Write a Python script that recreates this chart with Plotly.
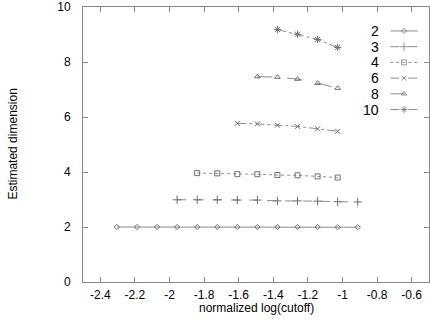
import plotly.graph_objects as go

# x positions (normalized log(cutoff))
x_all = [-2.304, -2.188, -2.072, -1.956, -1.840, -1.724, -1.608,
         -1.492, -1.376, -1.260, -1.144, -1.028, -0.912]

names = ["2", "3", "4", "6", "8", "10"]
x2 = x_all
y2 = [2.00, 2.00, 2.00, 2.00, 2.00, 2.00, 2.00, 2.00, 2.00, 2.00, 2.00, 1.99, 1.99]
x3 = x_all[3:]
y3 = [2.99, 2.99, 2.99, 2.98, 2.98, 2.95, 2.95, 2.94, 2.92, 2.91]
x4 = x_all[4:12]
y4 = [3.96, 3.95, 3.92, 3.92, 3.89, 3.88, 3.84, 3.80]
x6 = x_all[6:12]
y6 = [5.77, 5.75, 5.70, 5.66, 5.57, 5.48]
x8 = x_all[7:12]
y8 = [7.47, 7.45, 7.38, 7.23, 7.05]
x10 = x_all[8:12]
y10 = [9.18, 9.01, 8.82, 8.53]

xtick_vals = [-2.4, -2.2, -2.0, -1.8, -1.6, -1.4, -1.2, -1.0, -0.8, -0.6]
xtick_text = ["-2.4", "-2.2", "-2", "-1.8", "-1.6", "-1.4", "-1.2", "-1", "-0.8", "-0.6"]
ytick_vals = [0, 2, 4, 6, 8, 10]
ytick_text = ["0", "2", "4", "6", "8", "10"]

series = [(x2, y2), (x3, y3), (x4, y4), (x6, y6), (x8, y8), (x10, y10)]
symbols = ["diamond-open", "cross-thin-open", "square-open", "x-thin-open",
           "triangle-up-open", "asterisk-open"]
dashes = ["solid", "dash", "dot", "dashdot", "longdash", "dashdot"]
sizes = [4, 6, 5, 5, 5, 6]
LC = "#8c8c8c"
MC = "#6e6e6e"
FONT = "Liberation Sans, Arial, sans-serif"

fig = go.Figure()
for (xs, ys), n, s, d, sz in zip(series, names, symbols, dashes, sizes):
    fig.add_trace(go.Scatter(
        x=xs, y=ys, mode="lines+markers", name=n, showlegend=False,
        line=dict(color=LC, width=1, dash=d),
        marker=dict(symbol=s, size=sz, color=MC, line=dict(color=MC, width=1)),
    ))

# custom legend (text left of sample) on a hidden overlay axis
for i, (n, s, d, sz) in enumerate(zip(names, symbols, dashes, sizes)):
    row = i
    fig.add_trace(go.Scatter(
        x=[0, 0.5, 1], y=[row, row, row], mode="lines+markers", showlegend=False,
        xaxis="x2", yaxis="y2",
        line=dict(color=LC, width=1, dash=d),
        marker=dict(symbol=s, size=[0, sz, 0], color=MC, line=dict(color=MC, width=1)),
        hoverinfo="skip",
    ))
    fig.add_annotation(x=0, y=row, xref="x2", yref="y2", text=n, showarrow=False,
                       xanchor="right", xshift=-9, font=dict(size=14, color="black", family=FONT))

axis_common = dict(showgrid=False, zeroline=False, showline=True, linecolor="#888888",
                   linewidth=1, mirror="ticks", ticks="inside", ticklen=5,
                   tickcolor="#888888", tickfont=dict(size=12, color="black", family=FONT),
                   ticklabeloverflow="allow", automargin=False)

# axis titles
fig.add_annotation(text="normalized log(cutoff)", xref="paper", yref="paper",
                   x=0.5, y=-0.096, yanchor="middle", showarrow=False,
                   font=dict(size=12, color="black", family=FONT))
fig.add_annotation(text="Estimated dimension", xref="paper", yref="paper",
                   x=-0.205, y=0.5, xanchor="center", yanchor="middle", textangle=-90,
                   showarrow=False, font=dict(size=12, color="black", family=FONT))

fig.update_layout(
    width=430, height=322,
    margin=dict(l=83, r=1, t=7, b=40),
    paper_bgcolor="white", plot_bgcolor="white",
    font=dict(family=FONT, color="black"),
    xaxis=dict(range=[-2.5, -0.5], tickvals=xtick_vals, ticktext=xtick_text,
               ticklabelstandoff=2, **axis_common),
    yaxis=dict(range=[0, 10], tickvals=ytick_vals, ticktext=ytick_text,
               ticklabelstandoff=9, **axis_common),
    xaxis2=dict(domain=[0.888, 0.968], range=[0, 1], visible=False, anchor="y2"),
    yaxis2=dict(domain=[0.61, 0.93], range=[5.3, -0.3], visible=False, anchor="x2"),
    showlegend=False,
)

fig.write_html("out.html")
